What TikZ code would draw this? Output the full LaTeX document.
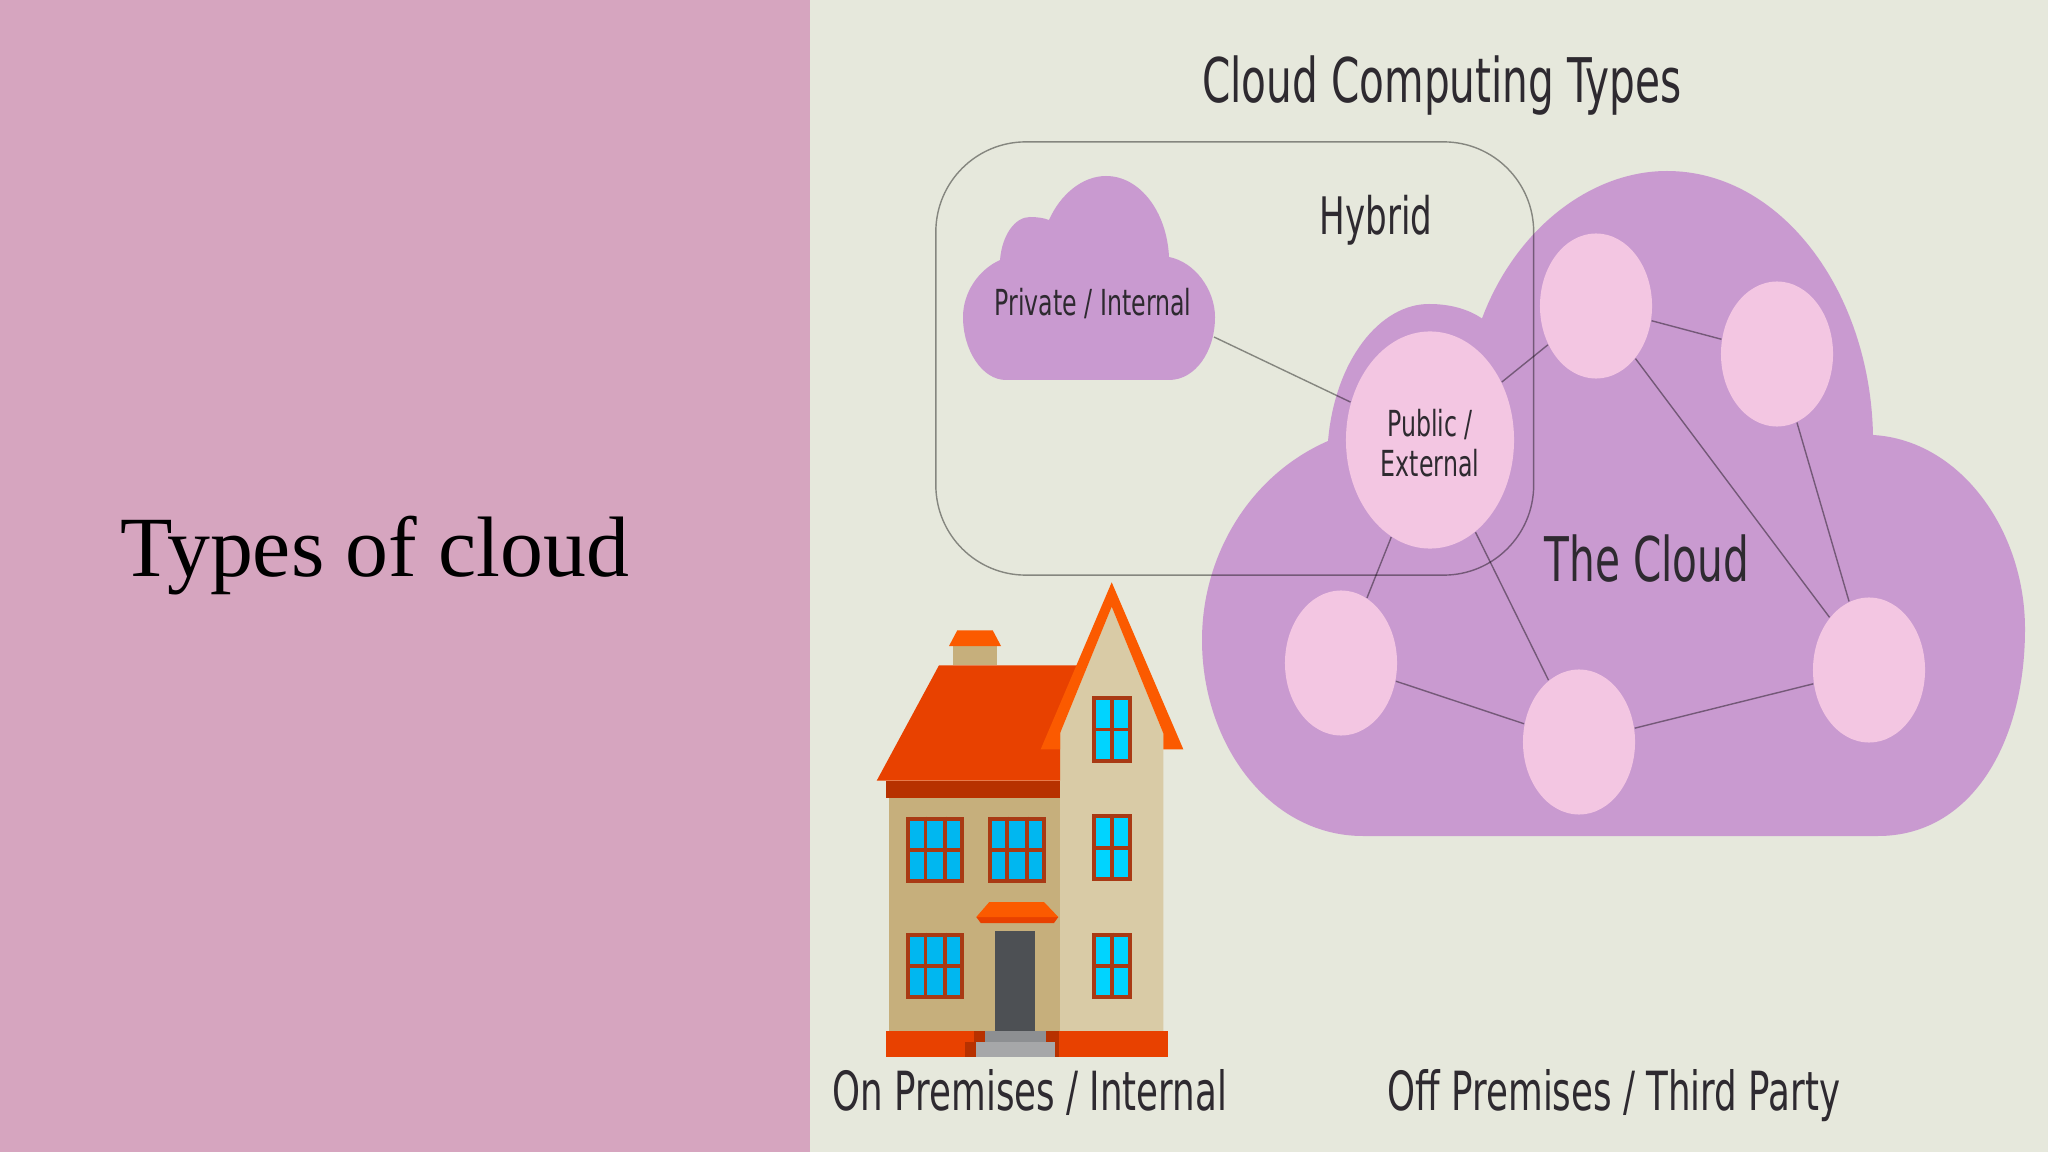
\documentclass[tikz,border=0pt]{standalone}
\usepackage{fontspec}
\usetikzlibrary{shapes,shapes.geometric,calc,positioning}
\newfontfamily\labelfont[FakeStretch=0.66]{DejaVu Sans}
\newfontfamily\headfont{Liberation Serif}
\definecolor{leftpink}{HTML}{D6A5BF}
\definecolor{rightpale}{HTML}{E6E8DC}
\definecolor{cloudlilac}{HTML}{C99AD0}
\definecolor{spotpink}{HTML}{F3C6E2}
\definecolor{darktext}{HTML}{2E2A30}
\definecolor{wallshade}{HTML}{C6AF7C}
\definecolor{walllight}{HTML}{D9CBA6}
\definecolor{roofred}{HTML}{E84100}
\definecolor{roofdark}{HTML}{B73100}
\definecolor{trimorange}{HTML}{FB5A00}
\definecolor{paneblue}{HTML}{00B7F0}
\definecolor{panecyan}{HTML}{00D4FF}
\definecolor{doorgrey}{HTML}{4D5054}
\definecolor{stepdark}{HTML}{8D8F92}
\definecolor{steplight}{HTML}{A6A7A9}
\definecolor{winframe}{HTML}{A93A14}
\newcommand{\housewindow}[6]{
	\draw[draw=winframe,line width=1.15pt,fill=#6] (#1+2,#2+2) rectangle (#3-2,#4-2);
	\draw[draw=winframe,line width=1.05pt] (#1,{(#2+#4)/2}) -- (#3,{(#2+#4)/2});
	\pgfmathtruncatemacro{\lastCol}{#5-1}
	\foreach \col in {1,...,\lastCol}
	{
		\draw[draw=winframe,line width=1.05pt] ({#1+(#3-#1)*\col/#5},#2) -- ({#1+(#3-#1)*\col/#5},#4);
	}
}
\begin{document}
\begin{tikzpicture}
	[x=0.01cm,y=-0.01cm,
	spot/.style={shape=ellipse,fill=spotpink,inner sep=0pt,minimum width=1.12cm,minimum height=1.45cm},
	link/.style={draw=black,draw opacity=0.42,line width=0.4pt},
	lab/.style={inner sep=0pt,text=darktext,align=center},
	smalllab/.style={lab,font=\labelfont\fontsize{10.2pt}{11.5pt}\selectfont},
	midlab/.style={lab,font=\labelfont\fontsize{15.35pt}{20pt}\selectfont},
	biglab/.style={lab,font=\labelfont\fontsize{17.5pt}{22pt}\selectfont}]
	\useasboundingbox (0,0) rectangle (2048,1152);
	\fill[leftpink] (0,0) rectangle (810,1152);
	\fill[rightpale] (810,0) rectangle (2048,1152);
	\node[inner sep=0pt,font=\headfont\fontsize{24.4pt}{28pt}\selectfont] (side) at (375,556) {Types of cloud};
	\node[biglab] (title) at (1442,86) {Cloud Computing Types};
	\fill[cloudlilac] (1328,441) .. controls (1335,360) and (1380,304) .. (1429,304)
		.. controls (1450,304) and (1468,309) .. (1482,318.5)
		.. controls (1515,230) and (1590,171) .. (1667,171)
		.. controls (1780,171) and (1870,290) .. (1873,435)
		.. controls (1960,440) and (2025,530) .. (2025,629)
		.. controls (2025,745) and (1970,836) .. (1878,836) -- (1363,836)
		.. controls (1270,836) and (1202,745) .. (1202,640)
		.. controls (1202,555) and (1250,475) .. (1328,441) -- cycle;
	\fill[cloudlilac] (1000,260) .. controls (1002,235) and (1015,217) .. (1030,217)
		.. controls (1037,217) and (1044,218) .. (1049,220)
		.. controls (1060,195) and (1082,176) .. (1106,176)
		.. controls (1140,176) and (1167,212) .. (1169,257)
		.. controls (1195,262) and (1215,290) .. (1215,317)
		.. controls (1215,352) and (1195,380) .. (1169,380) -- (1006,380)
		.. controls (982,380) and (963,350) .. (963,317)
		.. controls (963,293) and (978,270) .. (1000,260) -- cycle;
	\node[spot,minimum width=1.68cm,minimum height=2.17cm] (pub) at (1430,440) {};
	\node[spot] (n1) at (1596,306) {};
	\node[spot] (n2) at (1777,354) {};
	\node[spot] (n3) at (1341,663) {};
	\node[spot] (n4) at (1579,742) {};
	\node[spot] (n5) at (1869,670) {};
	\coordinate (priv) at (1214,337);
	\path
	\foreach \startNode/\endNode in {priv/pub,pub/n1,pub/n3,pub/n4,n1/n2,n1/n5,n2/n5,n3/n4,n4/n5}
	{
		(\startNode) edge[link] (\endNode)
	};
	\node[draw=black,draw opacity=0.42,line width=0.4pt,rounded corners=0.9cm,
		minimum width=5.975cm,minimum height=4.33cm,inner sep=0pt] (hybrid) at (1234.75,358.5) {};
	\node[smalllab] (privlab) at (1093,304) {Private / Internal};
	\node[smalllab] (publab) at (1430,443) {Public /\\External};
	\node[lab,font=\labelfont\fontsize{14.7pt}{20pt}\selectfont] (hyblab) at (1376,220) {Hybrid};
	\node[biglab] (cloudlab) at (1647,559) {The Cloud};
	\node[midlab] (onlab) at (1030,1092) {On Premises / Internal};
	\node[midlab] (offlab) at (1614,1096) {Off Premises / Third Party};
	\fill[wallshade] (889.3,798) rectangle (1060,1032);
	\fill[walllight] (1060,733.3) -- (1111.7,606.7) -- (1163.3,733.3) -- (1163.3,1031.7) -- (1060,1031.7) -- cycle;
	\fill[wallshade] (952.7,646) rectangle (997,665.3);
	\fill[trimorange] (957.3,630.3) -- (992.7,630.3) -- (1001,646) -- (949,646) -- cycle;
	\fill[roofred] (939,665.3) -- (1080,665.3) -- (1060,733) -- (1060,780.7) -- (876.7,780.7) -- cycle;
	\fill[roofdark] (886,780.7) rectangle (1060,798.3);
	\fill[trimorange] (1111.7,582.3) -- (1183.3,749.3) -- (1163.3,749.3) -- (1163.3,733.3) -- (1111.7,606.7)
		-- (1060,733.3) -- (1060,749.3) -- (1040.7,749.3) -- cycle;
	\housewindow{906}{816.7}{964.3}{883.3}{3}{paneblue}
	\housewindow{988}{816.7}{1046}{883.3}{3}{paneblue}
	\housewindow{906}{932.7}{964.3}{999.3}{3}{paneblue}
	\housewindow{1092}{696}{1132}{763.3}{2}{panecyan}
	\housewindow{1092}{814.3}{1132}{881.3}{2}{panecyan}
	\housewindow{1092}{932.7}{1132}{999.3}{2}{panecyan}
	\fill[roofred] (976.3,917) -- (1058.3,917) -- (1054,923) -- (980.7,923) -- cycle;
	\fill[trimorange] (989.3,902) -- (1044,902) -- (1058.3,917) -- (976.3,917) -- cycle;
	\fill[doorgrey] (995,931) rectangle (1035.3,1031);
	\fill[roofred] (886,1030.7) rectangle (985,1056.7);
	\fill[roofred] (1045.7,1030.7) rectangle (1167.7,1056.7);
	\fill[roofdark] (974,1030.7) rectangle (985,1041.7);
	\fill[roofdark] (965,1041.7) rectangle (976,1056.7);
	\fill[roofdark] (1045.7,1030.7) rectangle (1059.3,1041.7);
	\fill[roofdark] (1055,1041.7) rectangle (1059.3,1056.7);
	\fill[stepdark] (985,1030.7) rectangle (1045.7,1041.7);
	\fill[steplight] (976,1041.7) rectangle (1054.7,1056.7);
\end{tikzpicture}
\end{document}
